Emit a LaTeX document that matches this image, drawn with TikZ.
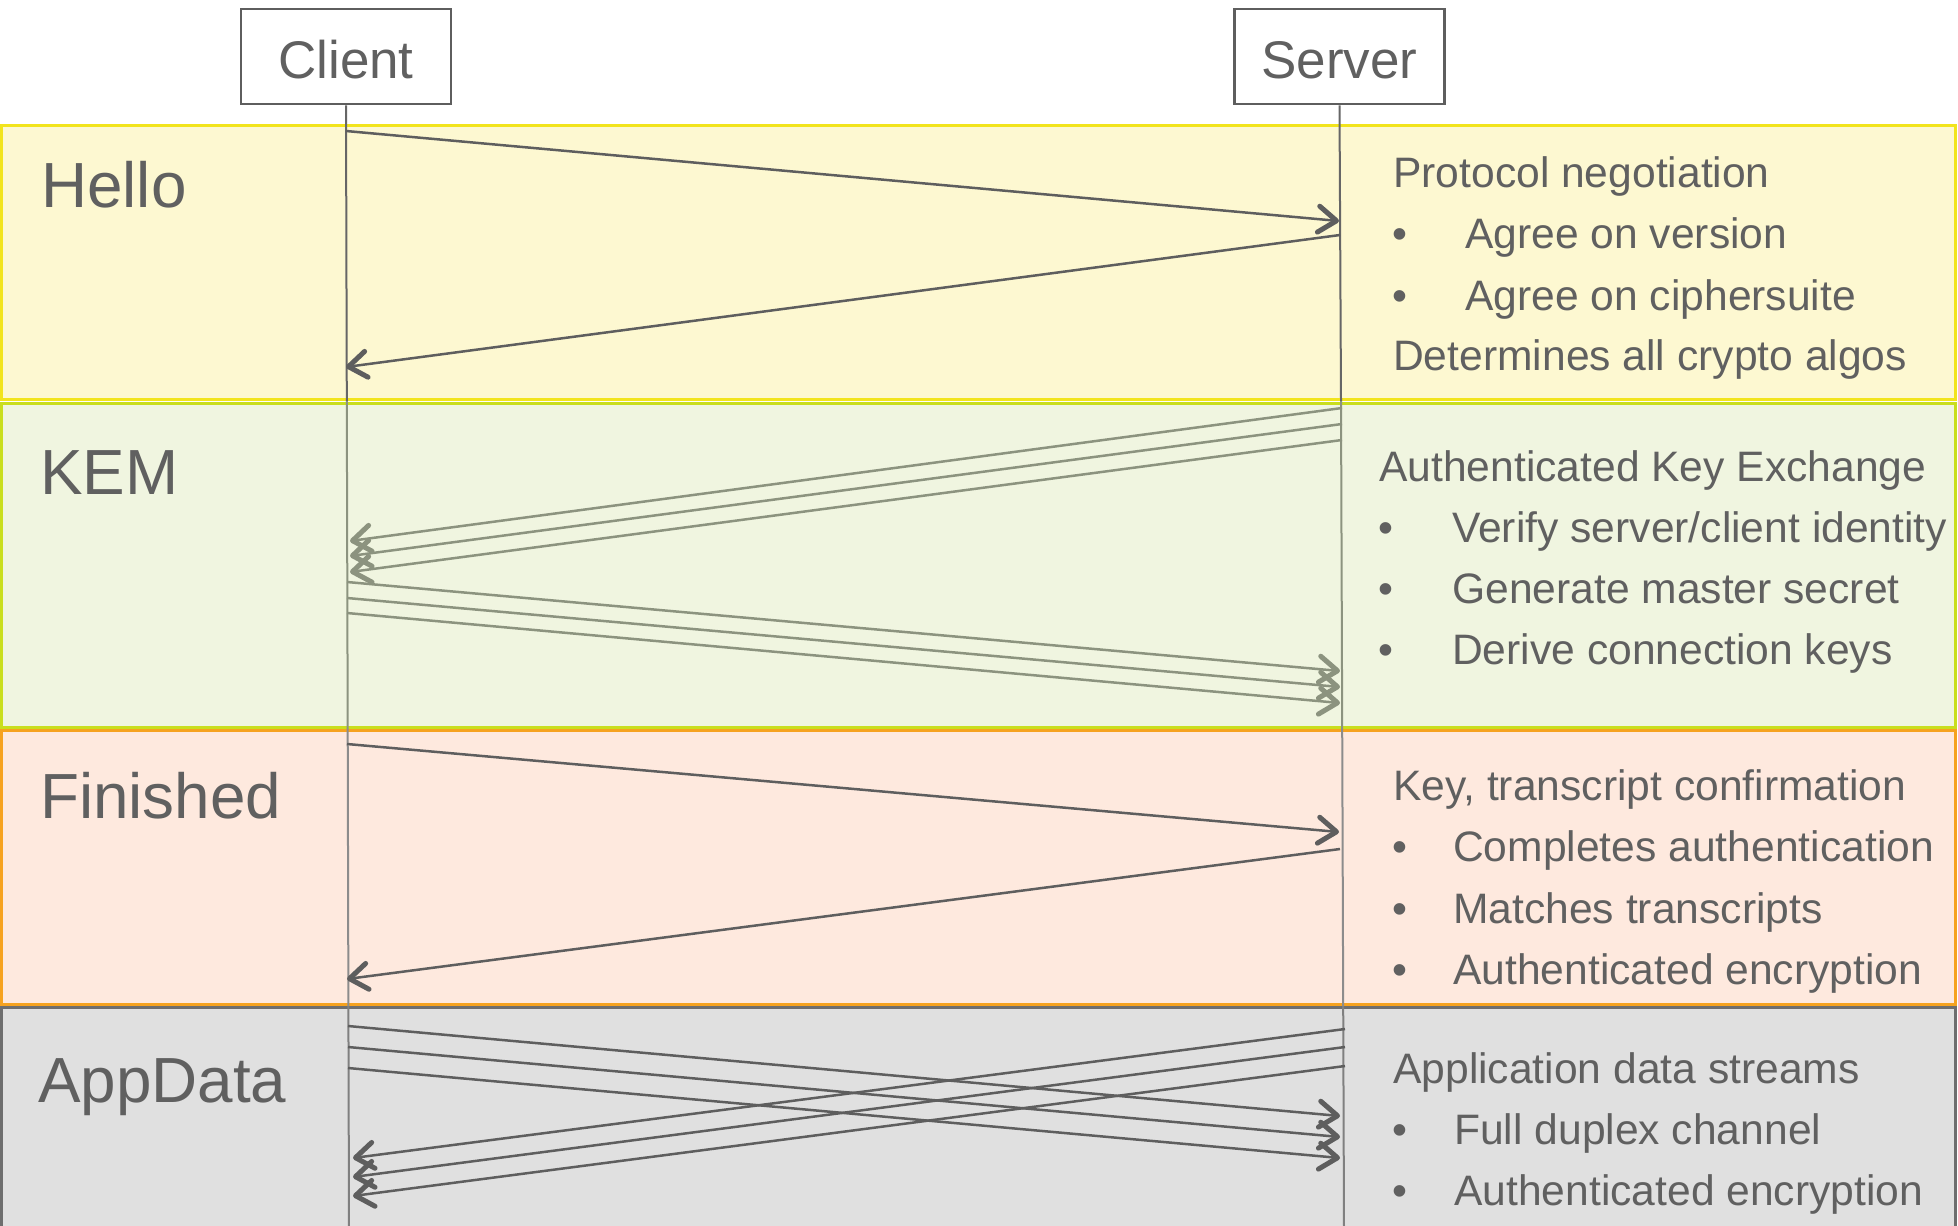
\documentclass[tikz,border=0pt]{standalone}
\usepackage{fontspec}
\setmainfont{Liberation Sans}
\usetikzlibrary{arrows.meta}

\definecolor{ink}{HTML}{5E5E5E}
\definecolor{txt}{HTML}{606060}
\definecolor{kemline}{HTML}{8C937F}
\definecolor{helloFill}{HTML}{FDF8D1}
\definecolor{helloEdge}{HTML}{F2E41C}
\definecolor{kemFill}{HTML}{F0F5E0}
\definecolor{kemEdge}{HTML}{C9DE1E}
\definecolor{finFill}{HTML}{FEE9DE}
\definecolor{finEdge}{HTML}{F6A21F}
\definecolor{appFill}{HTML}{E0E0E0}
\definecolor{appEdge}{HTML}{6E6E6E}

\begin{document}
\begin{tikzpicture}[x=1bp,y=-1bp,
  band/.style={line width=3bp},
  actor/.style={draw=ink, line width=2.5bp, fill=white, minimum width=210bp,
    minimum height=95bp, inner sep=0pt, text=txt, text height=43bp, text depth=0pt,
    font=\fontsize{53bp}{60bp}\selectfont},
  phase/.style={anchor=base west, inner sep=0pt, text=txt,
    font=\fontsize{63.8bp}{70bp}\selectfont},
  note/.style={anchor=base west, inner sep=0pt, text=txt,
    font=\fontsize{42.6bp}{50bp}\selectfont},
  msg/.style={draw=#1, line width=2.5bp,
    -{Straight Barb[length=18bp,width=26bp,line width=5bp,round]}},
  msg/.default=ink,
  life/.style={draw=#1, line width=2bp}
]
\useasboundingbox (0,0) rectangle (1958,1225);

% phase bands
\fill[white] (0,0) rectangle (1958,1225);
\draw[band, fill=helloFill, draw=helloEdge] (1.5,125) rectangle (1955,399);
\draw[band, fill=kemFill,   draw=kemEdge]   (1.5,403) rectangle (1955,727);
\draw[band, fill=finFill,   draw=finEdge]   (1.5,730) rectangle (1955,1004);
\draw[band, fill=appFill,   draw=appEdge]   (1.5,1007) rectangle (1955,1240);

% participants
\node[actor] (client) at (346,56.5) {Client};
\node[actor] (server) at (1339.5,56.5) {Server};

% lifeline break points, one per band edge
\coordinate (cl1) at (346.8,401);
\coordinate (cl2) at (347.7,728);
\coordinate (cl3) at (348.4,1006);
\coordinate (cl4) at (349,1230);
\coordinate (sl1) at (1341,401);
\coordinate (sl2) at (1342.2,728);
\coordinate (sl3) at (1343.2,1006);
\coordinate (sl4) at (1344,1230);

\draw[life=ink!95] (client.south) -- (cl1);
\draw[life=kemline] (cl1) -- (cl2);
\draw[life=black!45] (cl2) -- (cl3);
\draw[life=black!50] (cl3) -- (cl4);
\draw[life=ink!95] (server.south) -- (sl1);
\draw[life=kemline] (sl1) -- (sl2);
\draw[life=black!45] (sl2) -- (sl3);
\draw[life=black!50] (sl3) -- (sl4);

% Hello messages
\coordinate (h1c) at (346,131);
\coordinate (h1s) at (1339,221);
\coordinate (h2s) at (1340,235);
\coordinate (h2c) at (346,367);
\draw[msg] (h1c) -- (h1s);
\draw[msg] (h2s) -- (h2c);

% KEM messages
\foreach \i/\ys/\yc in {1/408/541, 2/424/556, 3/440/572}{
  \coordinate (ks\i) at (1342,\ys);
  \coordinate (kc\i) at (350,\yc);
  \draw[msg=kemline] (ks\i) -- (kc\i);
}
\foreach \i/\yc/\ys in {1/582/671, 2/598/687, 3/613/703}{
  \coordinate (kc\i b) at (347,\yc);
  \coordinate (ks\i b) at (1340,\ys);
  \draw[msg=kemline] (kc\i b) -- (ks\i b);
}

% Finished messages
\coordinate (f1c) at (347,744);
\coordinate (f1s) at (1339,832);
\coordinate (f2s) at (1340,849);
\coordinate (f2c) at (347,979);
\draw[msg] (f1c) -- (f1s);
\draw[msg] (f2s) -- (f2c);

% AppData messages
\foreach \i/\yc/\ys in {1/1026/1116, 2/1047/1137, 3/1068/1158}{
  \coordinate (ac\i) at (348,\yc);
  \coordinate (as\i) at (1340,\ys);
  \draw[msg] (ac\i) -- (as\i);
}
\foreach \i/\ys/\yc in {1/1029/1158, 2/1047/1177, 3/1066/1196}{
  \coordinate (as\i b) at (1345,\ys);
  \coordinate (ac\i b) at (353,\yc);
  \draw[msg] (as\i b) -- (ac\i b);
}

% phase names
\node[phase] (pHello) at (41,207) {Hello};
\node[phase] (pKem) at (40,494) {KEM};
\node[phase] (pFin) at (40,818) {Finished};
\node[phase] (pApp) at (38,1102) {AppData};

% Hello notes
\node[note] (n11) at (1393,187) {Protocol negotiation};
\node[note] (b12) at (1392,248) {•};
\node[note] (n12) at (1465,248) {Agree on version};
\node[note] (b13) at (1392,310) {•};
\node[note] (n13) at (1465,310) {Agree on ciphersuite};
\node[note] (n14) at (1393,370) {Determines all crypto algos};

% KEM notes
\node[note] (n21) at (1379,481) {Authenticated Key Exchange};
\node[note] (b22) at (1378,542) {•};
\node[note] (n22) at (1452,542) {Verify server/client identity};
\node[note] (b23) at (1378,603) {•};
\node[note] (n23) at (1452,603) {Generate master secret};
\node[note] (b24) at (1378,664) {•};
\node[note] (n24) at (1452,664) {Derive connection keys};

% Finished notes
\node[note] (n31) at (1393,800) {Key, transcript confirmation};
\node[note] (b32) at (1392,861) {•};
\node[note] (n32) at (1453,861) {Completes authentication};
\node[note] (b33) at (1392,923) {•};
\node[note] (n33) at (1453,923) {Matches transcripts};
\node[note] (b34) at (1392,984) {•};
\node[note] (n34) at (1453,984) {Authenticated encryption};

% AppData notes
\node[note] (n41) at (1393,1083) {Application data streams};
\node[note] (b42) at (1392,1144) {•};
\node[note] (n42) at (1454,1144) {Full duplex channel};
\node[note] (b43) at (1392,1205) {•};
\node[note] (n43) at (1454,1205) {Authenticated encryption};
\end{tikzpicture}
\end{document}
